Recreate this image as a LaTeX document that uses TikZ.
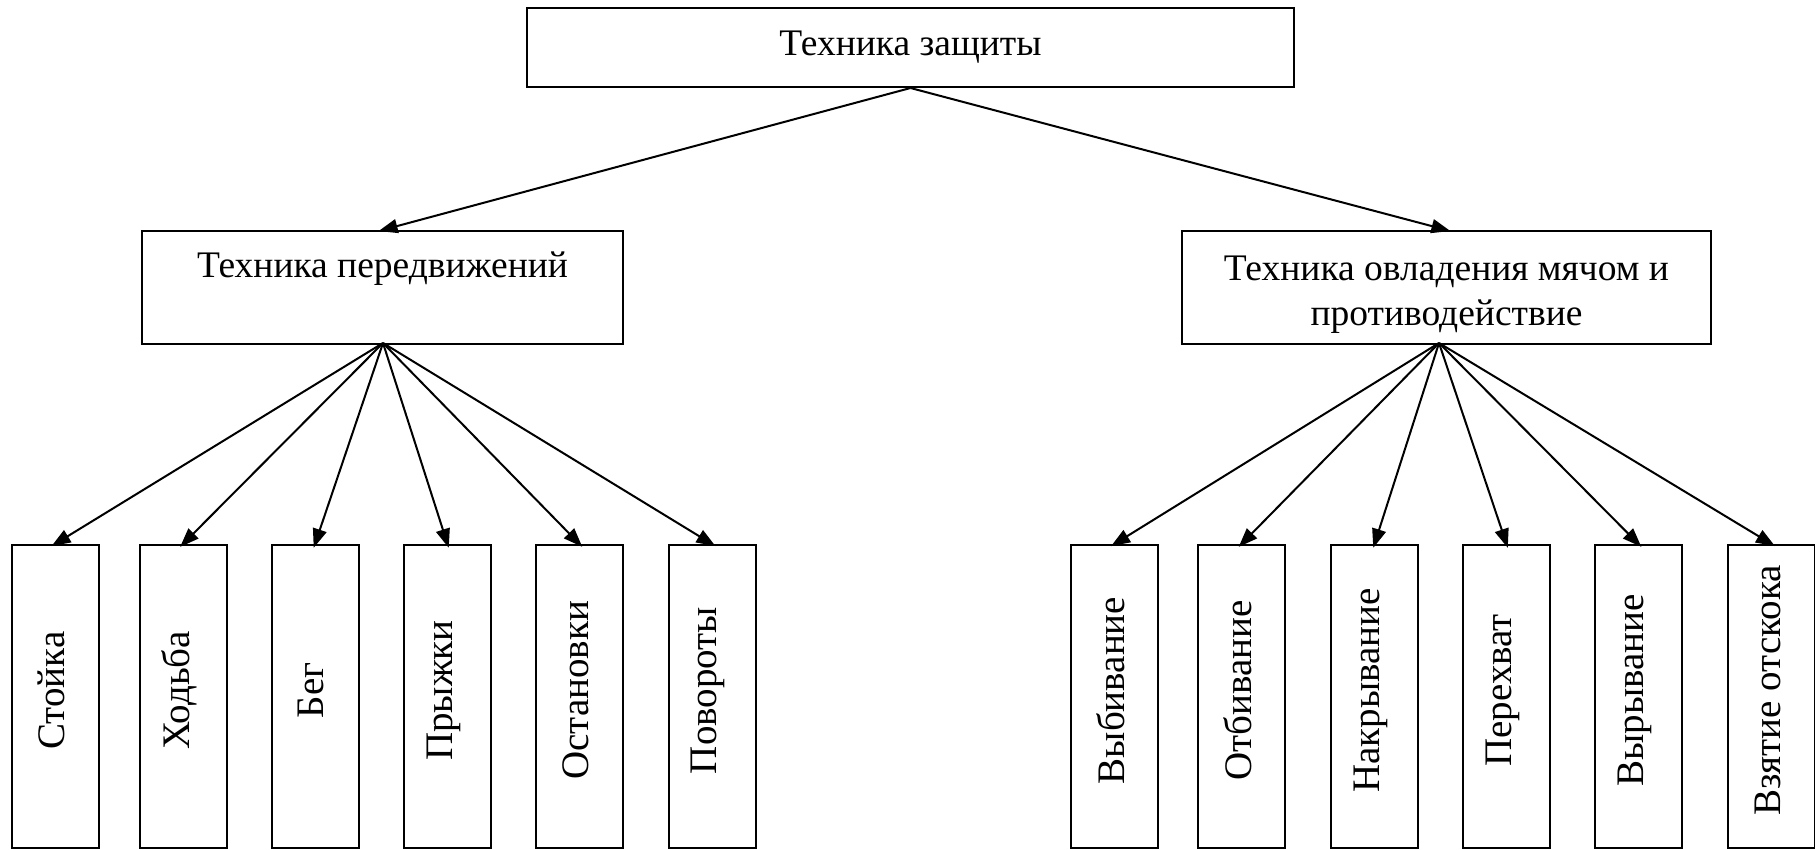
\documentclass[tikz,border=0pt]{standalone}
\usepackage{fontspec}
\setmainfont{Liberation Serif}
\usetikzlibrary{arrows.meta}
\newcommand{\vtext}[1]{\hspace*{-8pt}\rotatebox{90}{\hspace*{12pt}#1}}
\begin{document}
\begin{tikzpicture}[x=1pt,y=-1pt,
  box/.style={draw=black, line width=2pt, inner sep=0pt, align=center,
    font=\fontsize{37.5}{45}\selectfont},
  leaf/.style={box, minimum width=87pt, minimum height=303pt, font=\fontsize{39}{45}\selectfont},
  conn/.style={line width=2pt, -{Triangle[length=19pt,width=14pt]}, shorten >=-4pt}
]
\useasboundingbox (0,0) rectangle (1815,849);
\clip (0,0) rectangle (1815,849);
% top
\node[box, minimum width=767pt, minimum height=79pt] (top) at (910.5,47.5) {\raisebox{3pt}{Техника защиты}};
% middle
\node[box, minimum width=481pt, minimum height=113pt] (mleft) at (382.5,287.5) {Техника передвижений\\~};
\node[box, minimum width=529pt, minimum height=113pt] (mright) at (1446.5,287.5) {\rule{0pt}{38pt}Техника овладения мячом и\\противодействие};
\coordinate (lf) at (383,343);
\coordinate (rf) at (1439,343);
% leaves left
\node[leaf] (l1) at (55,696.5) {\vtext{Стойка}};
\node[leaf] (l2) at (183,696.5) {\vtext{Ходьба}};
\node[leaf] (l3) at (315,696.5) {\vtext{Бег}};
\node[leaf] (l4) at (447.5,696.5) {\vtext{Прыжки}};
\node[leaf] (l5) at (579.5,696.5) {\vtext{Остановки}};
\node[leaf] (l6) at (712,696.5) {\vtext{Повороты}};
% leaves right
\node[leaf] (r1) at (1114.5,696.5) {\vtext{Выбивание}};
\node[leaf] (r2) at (1241.5,696.5) {\vtext{Отбивание}};
\node[leaf] (r3) at (1374.5,696.5) {\vtext{Накрывание}};
\node[leaf] (r4) at (1506.5,696.5) {\vtext{Перехват}};
\node[leaf] (r5) at (1638.5,696.5) {\vtext{Вырывание}};
\node[leaf] (r6) at (1771.5,696.5) {\vtext{Взятие отскока}};
% connectors
\draw[conn] (top.south) -- (mleft.north);
\draw[conn] (top.south) -- (mright.north);
\foreach \n in {l1,l2,l3,l4,l5,l6} \draw[conn] (lf) -- (\n.north);
\foreach \n in {r1,r2,r3,r4,r5,r6} \draw[conn] (rf) -- (\n.north);
\end{tikzpicture}
\end{document}
